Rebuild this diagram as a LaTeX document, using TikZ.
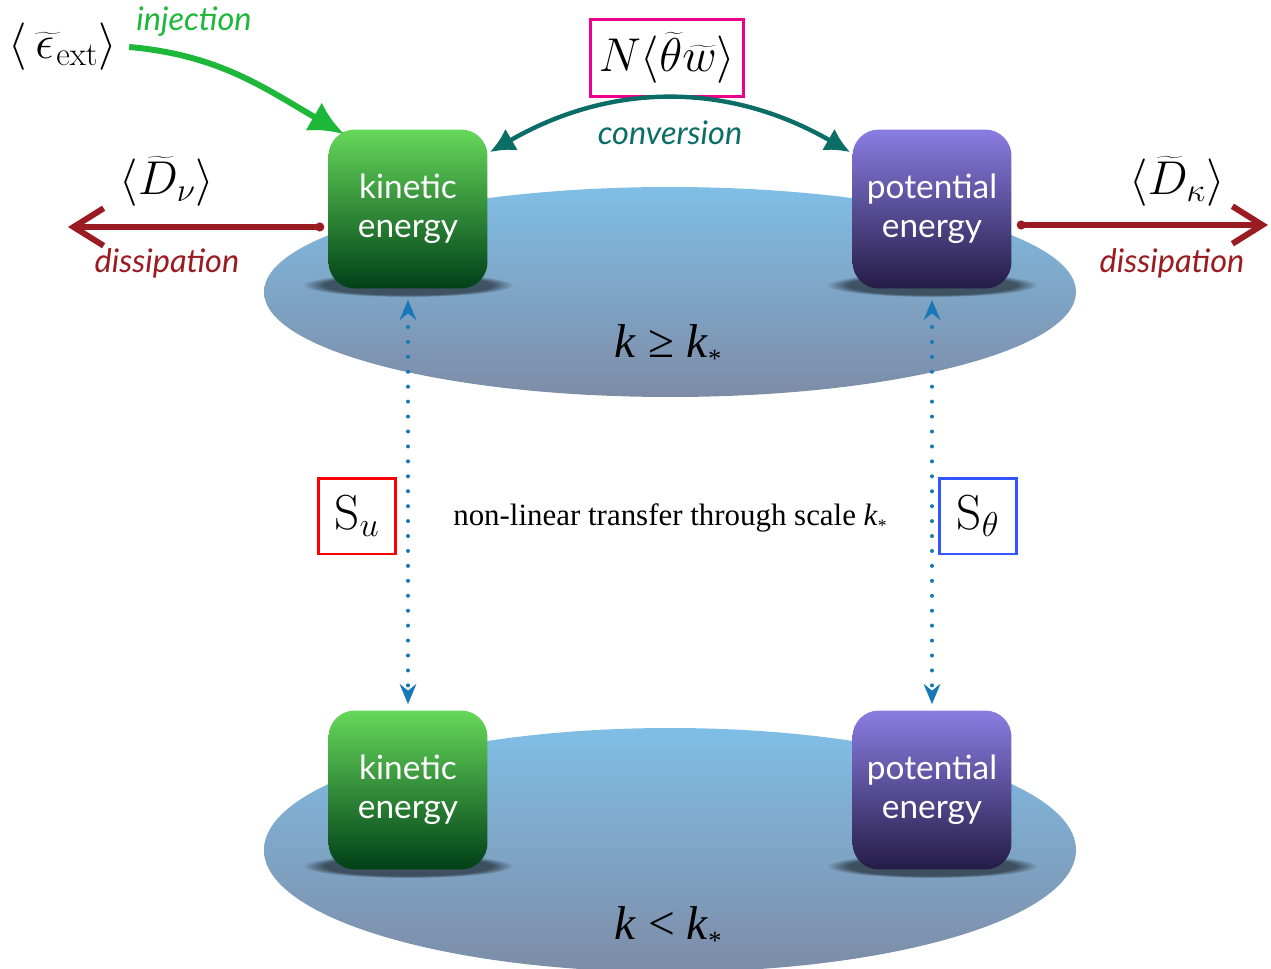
\documentclass[tikz,border=0pt]{standalone}
\usepackage{fix-cm}
\usepackage{fontspec}
\newfontfamily\lato{Lato}
\newfontfamily\tnr{Liberation Serif}
\usetikzlibrary{arrows.meta, calc, fadings}
\definecolor{lakeTop}{HTML}{80BEE6}
\definecolor{lakeBot}{HTML}{7D8CA6}
\definecolor{kinTop}{HTML}{66D85A}
\definecolor{kinBot}{HTML}{004018}
\definecolor{potTop}{HTML}{8A7DE2}
\definecolor{potBot}{HTML}{241C46}
\definecolor{dissRed}{HTML}{9B1B22}
\definecolor{injGreen}{HTML}{1DB83A}
\definecolor{convTeal}{HTML}{0B6E66}
\definecolor{linkBlue}{HTML}{1878B8}
\definecolor{boxBlue}{HTML}{3355FF}
\newcommand{\kstar}{\textit{k}\raisebox{-0.45ex}{\fontsize{15}{15}\selectfont *}}

\begin{document}
\begin{tikzpicture}[x=0.02cm, y=0.02cm,
  energy/.style={rounded corners=15pt, minimum width=3.18cm, minimum height=3.18cm, text=white, align=center, font=\lato\fontsize{19}{22}\selectfont},
  kin/.style={energy, top color=kinTop, bottom color=kinBot},
  pot/.style={energy, top color=potTop, bottom color=potBot},
  flux/.style={inner sep=1pt, font=\lato\itshape\fontsize{18.5}{20}\selectfont},
  mathlbl/.style={inner sep=1pt, font=\fontsize{27}{30}\selectfont},
  srcbox/.style={draw, line width=1.7pt, minimum width=1.54cm, minimum height=1.52cm, font=\fontsize{28}{32}\selectfont},
  dissip/.style={draw=dissRed, line width=3.4pt, {Circle[length=5pt]}-{Straight Barb[length=6mm,width=7.5mm]}},
  transfer/.style={draw=linkBlue, line width=2.3pt, dash pattern=on 0pt off 8.5pt, line cap=round, {Stealth[length=4mm,width=3.3mm]}-{Stealth[length=4mm,width=3.3mm]}},
  shadow/.style={fill=black, opacity=0.5, path fading=circle with fuzzy edge 20 percent}
]
\useasboundingbox (0,0) rectangle (1271,-969);

%the two scale ranges
\shade[top color=lakeTop, bottom color=lakeBot] (670,-292) ellipse [x radius=406, y radius=105];
\begin{scope}
\clip (0,0) rectangle (1271,-969);
\shade[top color=lakeTop, bottom color=lakeBot] (670,-850) ellipse [x radius=406, y radius=122];
\end{scope}

%shadows under the boxes
\fill[shadow] (408,-285) ellipse [x radius=105, y radius=12];
\fill[shadow] (932,-285) ellipse [x radius=105, y radius=12];
\fill[shadow] (408,-866) ellipse [x radius=105, y radius=12];
\fill[shadow] (932,-866) ellipse [x radius=105, y radius=12];

%energy reservoirs
\node[kin] (kinU) at (408,-209) {kinetic\\energy};
\node[pot] (potU) at (932,-209) {potential\\energy};
\node[kin] (kinL) at (408,-790) {kinetic\\energy};
\node[pot] (potL) at (932,-790) {potential\\energy};

\node[font=\tnr\fontsize{27}{30}\selectfont] (hiK) at (668,-346) {\textit{k} ≥ \kstar};
\node[font=\tnr\fontsize{27}{30}\selectfont] (loK) at (668,-928) {\textit{k} < \kstar};

%fluxes
\node[mathlbl] (eps) at (63,-47) {$\langle\,\widetilde{\epsilon\,}_{\!\mathrm{ext}}\rangle$};
\node[flux, text=injGreen] (inj) at (194,-22) {injection};
\node[mathlbl] (Dnu) at (167,-181) {$\langle\widetilde{D}_{\nu}\rangle$};
\node[flux, text=dissRed] (dissL) at (167,-263) {dissipation};
\node[mathlbl] (Dkap) at (1177,-181) {$\langle\widetilde{D}_{\kappa}\rangle$};
\node[flux, text=dissRed] (dissR) at (1172,-263) {dissipation};
\node[mathlbl, draw=magenta, line width=1.7pt, minimum width=3.06cm, minimum height=1.54cm] (Nbox) at (667,-58) {$N\langle\widetilde{\theta}\widetilde{w}\rangle$};
\node[flux, text=convTeal] (conv) at (670,-133) {conversion};

\coordinate (dnuTip) at (68,-227);
\coordinate (dkapTip) at (1268,-225);
\draw[dissip] ($(kinU.west)+(-4,-18)$) -- (dnuTip);
\draw[dissip] ($(potU.east)+(5,-16)$) -- (dkapTip);
\draw[draw=injGreen, line width=3.4pt, -{Latex[length=7mm,width=6.5mm]}] ($(eps.east)+(10,0)$) to[out=-5, in=150] ($(kinU.north west)+(16,-5)$);
\draw[draw=convTeal, line width=2.5pt, {Latex[length=5mm,width=5mm]}-{Latex[length=5mm,width=5mm]}] ($(kinU.north east)+(2,-23)$) to[bend left=30] ($(potU.north west)+(-2,-23)$);

%transfer through k_*
\draw[transfer] ($(kinU.south)+(0,-11)$) -- ($(kinL.north)+(0,6)$);
\draw[transfer] ($(potU.south)+(0,-11)$) -- ($(potL.north)+(0,6)$);
\node[srcbox, draw=red] (Su) at (357,-516) {$\mathrm{S}_u$};
\node[srcbox, draw=boxBlue] (Sth) at (978,-516) {$\mathrm{S}_\theta$};
\node[font=\tnr\fontsize{17.6}{20}\selectfont] (trans) at (670,-518) {non-linear transfer through scale \textit{k}\raisebox{-0.45ex}{\fontsize{10}{10}\selectfont *}};

\end{tikzpicture}
\end{document}
